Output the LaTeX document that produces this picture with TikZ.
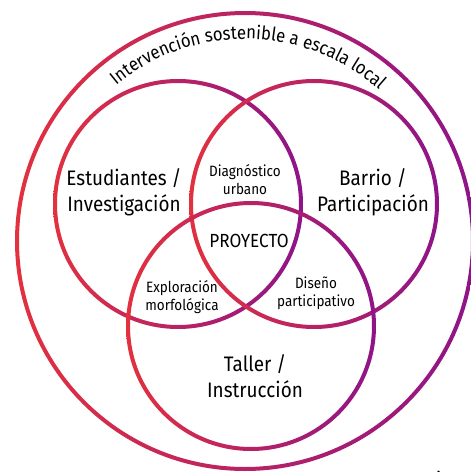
\documentclass[tikz,border=0pt]{standalone}
\usepackage{fontspec}
\setmainfont{Fira Sans}[FakeStretch=0.9]
\usetikzlibrary{decorations.text}
\definecolor{cred}{HTML}{E2313F}
\definecolor{cpink}{HTML}{CC2C86}
\definecolor{cpurp}{HTML}{8E1488}
\tikzset{
  ring/.style={left color=cred, middle color=cpink, right color=cpurp, even odd rule},
  biglabel/.style={align=center, font=\fontsize{21}{26}\selectfont, inner sep=0pt},
  smalllabel/.style={align=center, font=\fontsize{15}{18}\selectfont, inner sep=0pt},
}
\begin{document}
\begin{tikzpicture}[x=1pt,y=1pt]
\useasboundingbox (0,0) rectangle (471,-472);
% big circle
\shade[ring] (245,-241) circle[radius=230] (245,-241) circle[radius=226];
% inner circles
\shade[ring] (178,-204) circle[radius=125] (178,-204) circle[radius=121];
\shade[ring] (314,-204) circle[radius=125] (314,-204) circle[radius=121];
\shade[ring] (251,-326) circle[radius=125] (251,-326) circle[radius=121];
% arc text
\path[decorate, decoration={text along path, text align=center,
  text={|\fontsize{18.6}{21}\selectfont|Intervención sostenible a escala local}}]
  (245,-241) ++(143:202) arc[start angle=143, end angle=35, radius=202];
% labels
\node[biglabel] (est) at (124,-192) {Estudiantes /\\Investigación};
\node[biglabel] (bar) at (373,-192) {Barrio /\\Participación};
\node[biglabel] (tal) at (255,-376) {Taller /\\Instrucción};
\node[smalllabel] (dia) at (245,-180) {Diagnóstico\\urbano};
\node[smalllabel] (exp) at (182,-297) {Exploración\\morfológica};
\node[smalllabel] (dis) at (316,-293) {Diseño\\participativo};
\node[inner sep=0pt, font=\fontsize{19}{22}\selectfont] (pro) at (249,-241) {PROYECTO};
\node[inner sep=0pt, anchor=north west, font=\bfseries\fontsize{14}{16}\selectfont] (fig) at (431,-470.5) {Fi};
\end{tikzpicture}
\end{document}
